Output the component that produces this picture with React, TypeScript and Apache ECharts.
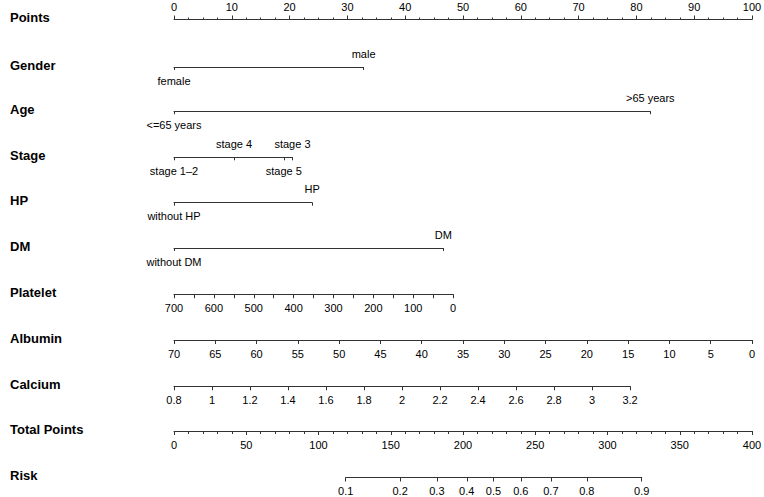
import React, { useEffect, useRef } from "react";
import * as echarts from "echarts";

// ---------- data ----------
const rowNames = ["Points", "Gender", "Age", "Stage", "HP", "DM", "Platelet", "Albumin", "Calcium", "Total Points", "Risk"];

const genderLevels = ["female", "male"];
const genderPoints = [0, 32.8];
const genderAbove = [false, true];

const ageLevels = ["<=65 years", ">65 years"];
const agePoints = [0, 82.4];
const ageAbove = [false, true];

const stageLevels = ["stage 1–2", "stage 4", "stage 5", "stage 3"];
const stagePoints = [0, 10.4, 19.0, 20.5];
const stageAbove = [false, true, false, true];

const hpLevels = ["without HP", "HP"];
const hpPoints = [0, 23.9];
const hpAbove = [false, true];

const dmLevels = ["without DM", "DM"];
const dmPoints = [0, 46.6];
const dmAbove = [false, true];

// numeric predictors: [value at left end, value at right end], points at those ends
const plateletRange = [700, 0];
const plateletPointsRange = [0, 48.3];
const albuminRange = [70, 0];
const albuminPointsRange = [0, 100];
const calciumRange = [0.8, 3.2];
const calciumPointsRange = [0, 78.9];

const pointsRange = [0, 100];
const totalPointsRange = [0, 400];

const riskLabels = [0.1, 0.2, 0.3, 0.4, 0.5, 0.6, 0.7, 0.8, 0.9];
const riskTotalPoints = [118.8, 156.5, 181.9, 202.6, 221.1, 240.0, 260.8, 285.7, 323.7];

// ---------- layout ----------
const X0 = 174;
const X1 = 752;
const rowY = [19.5, 67, 111.3, 157.3, 202.7, 248, 294.3, 340, 386.3, 431, 477.5];
const FONT = "'Liberation Sans', Arial, Helvetica, sans-serif";
const LINE = "#333";

const ptPx = (p: number) => X0 + (p * (X1 - X0)) / (pointsRange[1] - pointsRange[0]);
const tpPx = (t: number) => X0 + (t * (X1 - X0)) / (totalPointsRange[1] - totalPointsRange[0]);

function buildOption() {
  const grids: any[] = [];
  const xAxes: any[] = [];
  const yAxes: any[] = [];

  const labelStyle = { fontSize: 11, color: "#000", fontFamily: FONT };

  const addGrid = (left: number, right: number, y: number) => {
    const gi = grids.length;
    grids.push({ left, width: right - left, top: y, height: 0, containLabel: false, outerBoundsMode: "none" });
    yAxes.push({ gridIndex: gi, type: "value", show: false, min: 0, max: 1 });
    return gi;
  };

  // Points axis (top)
  {
    const gi = addGrid(ptPx(pointsRange[0]), ptPx(pointsRange[1]), rowY[0]);
    xAxes.push({
      type: "value", gridIndex: gi, position: "top", min: pointsRange[0], max: pointsRange[1], interval: 10,
      axisLine: { show: true, lineStyle: { color: LINE, width: 1 } },
      axisTick: { show: true, length: 4, lineStyle: { color: LINE } },
      minorTick: { show: true, splitNumber: 4, length: 2, lineStyle: { color: LINE } },
      splitLine: { show: false }, minorSplitLine: { show: false },
      axisLabel: { ...labelStyle, margin: 7, showMinLabel: true, showMaxLabel: true },
    });
  }

  const catRow = (row: number, levels: string[], pts: number[], above: boolean[]) => {
    const lo = Math.min(...pts);
    const hi = Math.max(...pts);
    const gi = addGrid(ptPx(lo), ptPx(hi), rowY[row]);
    const fmt = (v: number) => {
      const i = pts.findIndex((p) => Math.abs(p - v) < 1e-6);
      return i >= 0 ? levels[i] : "";
    };
    xAxes.push({
      type: "value", gridIndex: gi, position: "bottom", min: lo, max: hi,
      axisLine: { show: true, lineStyle: { color: LINE, width: 1 } },
      axisTick: { show: true, length: 3, customValues: pts, lineStyle: { color: LINE } },
      splitLine: { show: false },
      axisLabel: { ...labelStyle, margin: 8, customValues: pts.filter((_, i) => !above[i]), formatter: fmt },
    });
    xAxes.push({
      type: "value", gridIndex: gi, position: "top", min: lo, max: hi,
      axisLine: { show: false }, axisTick: { show: false }, splitLine: { show: false },
      axisLabel: { ...labelStyle, margin: 8, customValues: pts.filter((_, i) => above[i]), formatter: fmt },
    });
  };

  catRow(1, genderLevels, genderPoints, genderAbove);
  catRow(2, ageLevels, agePoints, ageAbove);
  catRow(3, stageLevels, stagePoints, stageAbove);
  catRow(4, hpLevels, hpPoints, hpAbove);
  catRow(5, dmLevels, dmPoints, dmAbove);

  const numRow = (row: number, range: number[], ptsRange: number[], interval: number, minorSplit: number, fmt?: (v: number) => string) => {
    const gi = addGrid(ptPx(Math.min(...ptsRange)), ptPx(Math.max(...ptsRange)), rowY[row]);
    const inverse = range[0] > range[1];
    xAxes.push({
      type: "value", gridIndex: gi, position: "bottom",
      min: Math.min(...range), max: Math.max(...range), interval, inverse,
      axisLine: { show: true, lineStyle: { color: LINE, width: 1 } },
      axisTick: { show: true, length: 4, lineStyle: { color: LINE } },
      minorTick: { show: minorSplit > 1, splitNumber: minorSplit, length: 4, lineStyle: { color: LINE } },
      splitLine: { show: false }, minorSplitLine: { show: false },
      axisLabel: { ...labelStyle, margin: 8, showMinLabel: true, showMaxLabel: true, formatter: fmt },
    });
  };

  numRow(6, plateletRange, plateletPointsRange, 100, 2);
  numRow(7, albuminRange, albuminPointsRange, 5, 0);
  numRow(8, calciumRange, calciumPointsRange, 0.2, 0, (v: number) => String(Math.round(v * 10) / 10));

  // Total points
  {
    const gi = addGrid(tpPx(totalPointsRange[0]), tpPx(totalPointsRange[1]), rowY[9]);
    xAxes.push({
      type: "value", gridIndex: gi, position: "bottom", min: totalPointsRange[0], max: totalPointsRange[1], interval: 50,
      axisLine: { show: true, lineStyle: { color: LINE, width: 1 } },
      axisTick: { show: true, length: 4, lineStyle: { color: LINE } },
      minorTick: { show: true, splitNumber: 5, length: 3, lineStyle: { color: LINE } },
      splitLine: { show: false }, minorSplitLine: { show: false },
      axisLabel: { ...labelStyle, margin: 8, showMinLabel: true, showMaxLabel: true },
    });
  }

  // Risk
  {
    const lo = Math.min(...riskTotalPoints);
    const hi = Math.max(...riskTotalPoints);
    const gi = addGrid(tpPx(lo), tpPx(hi), rowY[10]);
    const fmt = (v: number) => {
      const i = riskTotalPoints.findIndex((p) => Math.abs(p - v) < 1e-6);
      return i >= 0 ? String(riskLabels[i]) : "";
    };
    xAxes.push({
      type: "value", gridIndex: gi, position: "bottom", min: lo, max: hi,
      axisLine: { show: true, lineStyle: { color: LINE, width: 1 } },
      axisTick: { show: true, length: 4, customValues: riskTotalPoints, lineStyle: { color: LINE } },
      splitLine: { show: false },
      axisLabel: { ...labelStyle, margin: 8, customValues: riskTotalPoints, formatter: fmt },
    });
  }

  const graphics = rowNames.map((name, i) => ({
    type: "text",
    x: 10,
    y: rowY[i] - 2,
    style: {
      text: name,
      fill: "#000",
      fontSize: 13,
      fontWeight: "bold",
      fontFamily: FONT,
      verticalAlign: "middle",
      align: "left",
    },
  }));

  return {
    animation: false,
    backgroundColor: "#fff",
    grid: grids,
    xAxis: xAxes,
    yAxis: yAxes,
    graphic: graphics,
    series: [],
  };
}

export default function App() {
  const ref = useRef<HTMLDivElement>(null);
  useEffect(() => {
    if (!ref.current) return;
    const chart = echarts.init(ref.current, undefined, { renderer: "svg" });
    chart.setOption(buildOption() as any);
    return () => chart.dispose();
  }, []);
  return (
    <div
      ref={ref}
      style={{ position: "fixed", left: 0, top: 0, width: 764, height: 497, background: "#fff" }}
    />
  );
}
